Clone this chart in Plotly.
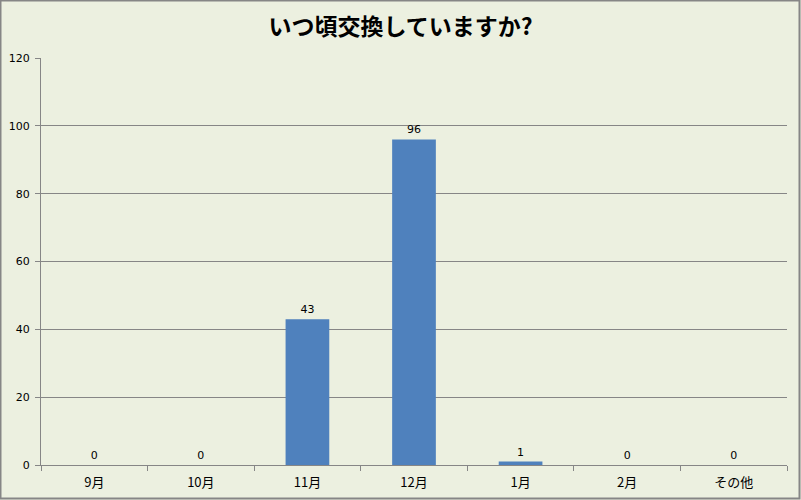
import plotly.graph_objects as go

categories = ["9月", "10月", "11月", "12月", "1月", "2月", "その他"]
values = [0, 0, 43, 96, 1, 0, 0]
y_ticks = [0, 20, 40, 60, 80, 100, 120]

W, H = 801, 500
ML, MR, MT, MB = 41, 14, 58, 35
pw, ph = W - ML - MR, H - MT - MB

fig = go.Figure(go.Bar(
    x=categories, y=values,
    marker=dict(color="#4F81BD", line=dict(width=0)),
    width=0.41,
    text=[str(v) for v in values],
    textposition="outside",
    textfont=dict(size=11, color="#000000", family="DejaVu Sans"),
    cliponaxis=False,
))

bg = "#ECF0E0"
fig.update_layout(
    width=W, height=H,
    margin=dict(l=ML, r=MR, t=MT, b=MB),
    paper_bgcolor=bg, plot_bgcolor=bg,
    showlegend=False,
    title=dict(text="<b>いつ頃交換していますか?</b>", x=0.5, xanchor="center",
               y=1 - 27 / H, yanchor="middle",
               font=dict(family="Noto Sans CJK JP", size=23, color="#000000")),
    xaxis=dict(showgrid=False, showline=True, linecolor="#868686", linewidth=1,
               ticks="outside", ticklen=5, tickcolor="#868686",
               tickson="boundaries", ticklabelstandoff=5, automargin=False,
               tickfont=dict(family="Noto Sans CJK JP", size=13, color="#000000")),
    yaxis=dict(range=[0, 120], tickvals=y_ticks, showgrid=True, gridcolor="#868686",
               gridwidth=1, showline=True, linecolor="#868686", linewidth=1,
               ticks="outside", ticklen=5, tickcolor="#868686", zeroline=False,
               ticklabelstandoff=3, automargin=False,
               tickfont=dict(family="DejaVu Sans", size=11, color="#000000")),
    shapes=[dict(type="rect", xref="paper", yref="paper",
                 x0=(-ML + 0.5) / pw, x1=(W - ML - 1.5) / pw,
                 y0=(-MB + 1.5) / ph, y1=(H - MB - 0.5) / ph,
                 line=dict(color="#868686", width=2), fillcolor="rgba(0,0,0,0)")],
)

fig.write_html("out.html",
               config={"displayModeBar": False},
               post_script="document.body.style.margin='0';document.body.style.padding='0';")
